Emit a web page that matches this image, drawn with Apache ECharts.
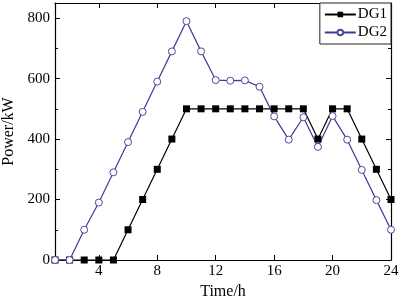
<!DOCTYPE html>
<html>
<head>
<meta charset="utf-8">
<script src="https://cdn.jsdelivr.net/npm/echarts@6/dist/echarts.min.js"></script>
<style>
  html, body { margin: 0; padding: 0; background: #fff; }
  #chart { width: 400px; height: 297px; }
</style>
</head>
<body>
<div id="chart"></div>
<script>
// 时间 (h) 与两台 DG 出力 (kW)
var hours = [1, 2, 3, 4, 5, 6, 7, 8, 9, 10, 11, 12, 13, 14, 15, 16, 17, 18, 19, 20, 21, 22, 23, 24];
var dg1 = [0, 0, 0, 0, 0, 100, 200, 300, 400, 500, 500, 500, 500, 500, 500, 500, 500, 500, 400, 500, 500, 400, 300, 200];
var dg2 = [0, 0, 100, 190, 290, 390, 490, 590, 690, 790, 690, 595, 593, 594, 573, 475, 398, 472, 374, 476, 398, 298, 198, 100];
var xTicks = [4, 8, 12, 16, 20, 24];
var yTicks = [0, 200, 400, 600, 800];
var yMinor = [100, 300, 500, 700];

function pairs(ys) {
  var out = [];
  for (var i = 0; i < hours.length; i++) out.push([hours[i], ys[i]]);
  return out;
}

var font = 'Liberation Serif';
var axisLine = { show: true, onZero: false, lineStyle: { color: '#000', width: 1.2 } };

var chart = echarts.init(document.getElementById('chart'));
chart.setOption({
  animation: false,
  grid: { left: 55, right: 9, top: 3, bottom: 37, containLabel: false, outerBoundsMode: 'none' },
  legend: {
    orient: 'vertical',
    right: 9, top: 3,
    itemWidth: 31, itemHeight: 7, itemGap: 3,
    padding: [4, 4, 4, 4],
    borderColor: '#222', borderWidth: 1,
    backgroundColor: '#fff',
    textStyle: { fontFamily: font, fontSize: 15, color: '#000', padding: [0, 0, 0, -3] },
    data: ['DG1', 'DG2']
  },
  xAxis: [{
    type: 'value', min: 1, max: 24, position: 'bottom',
    name: 'Time/h', nameLocation: 'middle', nameGap: 18,
    nameTextStyle: { fontFamily: font, fontSize: 16, color: '#000' },
    axisLine: axisLine,
    axisTick: { inside: true, length: 5, customValues: xTicks, lineStyle: { color: '#000' } },
    axisLabel: { customValues: xTicks, margin: 4, fontFamily: font, fontSize: 15, color: '#000' },
    splitLine: { show: false }
  }, {
    type: 'value', min: 1, max: 24, position: 'top',
    axisLine: axisLine,
    axisTick: { inside: true, length: 5, customValues: xTicks, lineStyle: { color: '#000' } },
    axisLabel: { show: false },
    splitLine: { show: false }
  }],
  yAxis: [{
    type: 'value', min: 0, max: 850, position: 'left',
    name: 'Power/kW', nameLocation: 'middle', nameGap: 37,
    nameTextStyle: { fontFamily: font, fontSize: 16, color: '#000' },
    axisLine: axisLine,
    axisTick: { inside: true, length: 5, customValues: yTicks, lineStyle: { color: '#000' } },
    axisLabel: { customValues: yTicks, margin: 5, fontFamily: font, fontSize: 15, color: '#000' },
    splitLine: { show: false }
  }, {
    type: 'value', min: 0, max: 850, position: 'right',
    axisLine: axisLine,
    axisTick: { inside: true, length: 5, customValues: yTicks, lineStyle: { color: '#000' } },
    axisLabel: { show: false },
    splitLine: { show: false }
  }, {
    type: 'value', min: 0, max: 850, position: 'left',
    axisLine: { show: false },
    axisTick: { inside: true, length: 3, customValues: yMinor, lineStyle: { color: '#000' } },
    axisLabel: { show: false },
    splitLine: { show: false }
  }, {
    type: 'value', min: 0, max: 850, position: 'right',
    axisLine: { show: false },
    axisTick: { inside: true, length: 3, customValues: yMinor, lineStyle: { color: '#000' } },
    axisLabel: { show: false },
    splitLine: { show: false }
  }],
  series: [{
    name: 'DG1', type: 'line',
    data: pairs(dg1),
    symbol: 'rect', symbolSize: 7,
    itemStyle: { color: '#000' },
    lineStyle: { color: '#000', width: 1.2 }
  }, {
    name: 'DG2', type: 'line',
    data: pairs(dg2),
    symbol: 'circle', symbolSize: 7,
    itemStyle: { color: '#fff', borderColor: '#4a4a9c', borderWidth: 1 },
    lineStyle: { color: '#3c3c96', width: 1.2 },
    z: 3
  }]
});
</script>
</body>
</html>
